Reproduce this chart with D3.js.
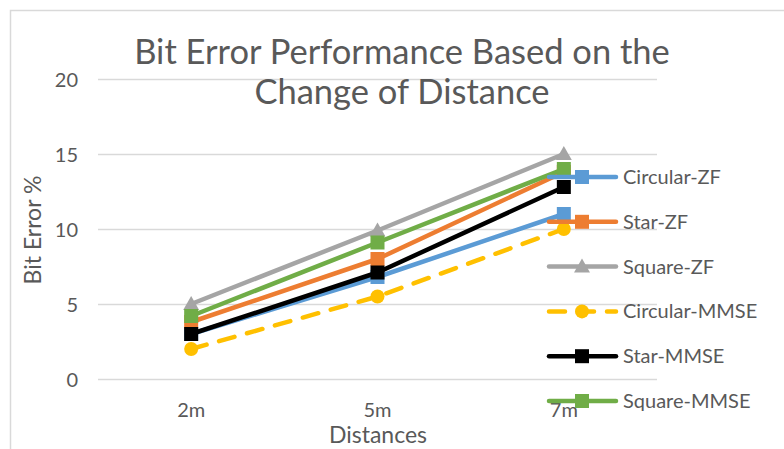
<!DOCTYPE html>
<html><head><meta charset="utf-8">
<script src="https://cdn.jsdelivr.net/npm/d3@7"></script>
<style>body{margin:0;background:#fff}svg{display:block}text{font-family:Lato,"Open Sans",sans-serif;fill:#595959}</style>
</head><body><svg id="c" width="784" height="449"></svg>
<script>
const categories = ["2m", "5m", "7m"];
const seriesNames = ["Circular-ZF", "Star-ZF", "Square-ZF", "Circular-MMSE", "Star-MMSE", "Square-MMSE"];
const circularZF = [3, 6.8, 11];
const starZF = [3.8, 8, 13.8];
const squareZF = [5, 9.9, 15];
const circularMMSE = [2, 5.5, 10];
const starMMSE = [3, 7.1, 12.8];
const squareMMSE = [4.2, 9.1, 14];
const yTicks = [0, 5, 10, 15, 20];
const colors = ["#5B9BD5", "#ED7D31", "#A5A5A5", "#FFC000", "#000000", "#70AD47"];
const markers = ["square", "square", "triangle", "circle", "square", "square"];
const dashed = [false, false, false, true, false, false];
const values = [circularZF, starZF, squareZF, circularMMSE, starMMSE, squareMMSE];

const svg = d3.select("#c");
svg.append("rect").attr("x",10.5).attr("y",10.5).attr("width",800).attr("height",500)
  .attr("fill","#fff").attr("stroke","#D9D9D9").attr("stroke-width",1.5);

const x = d3.scaleBand().domain(categories).range([98, 657]);
const y = d3.scaleLinear().domain([0, 20]).range([379, 79]);
const cx = d => x(d) + x.bandwidth()/2;

// gridlines
svg.append("g").selectAll("line").data(yTicks).join("line")
  .attr("x1", 98).attr("x2", 657).attr("y1", d => Math.round(y(d))+0.5).attr("y2", d => Math.round(y(d))+0.5)
  .attr("stroke", "#D9D9D9").attr("stroke-width", 1.3);

// y axis labels
const yAxis = d3.axisLeft(y).tickValues(yTicks).tickSize(0).tickPadding(0);
const gy = svg.append("g").attr("transform","translate(78,0)").call(yAxis);
gy.select(".domain").remove();
gy.selectAll("text").attr("font-size",20).attr("fill","#595959").attr("dy","0.35em").style("font-family","Lato");

// x axis labels
const xAxis = d3.axisBottom(x).tickSize(0).tickPadding(0);
const gx = svg.append("g").attr("transform","translate(0,403)").call(xAxis);
gx.select(".domain").remove();
gx.selectAll("text").attr("font-size",20).attr("fill","#595959").style("font-family","Lato");

// axis titles
svg.append("text").attr("x",378).attr("y",443).attr("text-anchor","middle").attr("font-size",23).text("Distances");
svg.append("text").attr("transform","translate(41,230) rotate(-90)").attr("text-anchor","middle").attr("font-size",23).text("Bit Error %");

// title
svg.append("text").attr("x",402).attr("y",64).attr("text-anchor","middle").attr("font-size",34.5).text("Bit Error Performance Based on the");
svg.append("text").attr("x",402).attr("y",104).attr("text-anchor","middle").attr("font-size",34.5).text("Change of Distance");

function drawMarker(g, type, color, px, py) {
  if (type === "square") {
    g.append("rect").attr("x", px-7).attr("y", py-7).attr("width",14).attr("height",14).attr("fill", color);
  } else if (type === "triangle") {
    g.append("path").attr("d", `M${px},${py-8}L${px+8},${py+6}L${px-8},${py+6}Z`).attr("fill", color);
  } else {
    g.append("circle").attr("cx", px).attr("cy", py).attr("r", 7).attr("fill", color);
  }
}

const line = d3.line().x((d,i) => cx(categories[i])).y(d => y(d));
values.forEach((vals, s) => {
  const g = svg.append("g");
  g.append("path").attr("d", line(vals)).attr("fill","none").attr("stroke", colors[s])
    .attr("stroke-width", 4.5).attr("stroke-linejoin","round").attr("stroke-linecap","round")
    .attr("stroke-dasharray", dashed[s] ? "16,13" : null);
  vals.forEach((v,i) => drawMarker(g, markers[s], colors[s], cx(categories[i]), y(v)));
});

// legend
const legY = d3.scalePoint().domain(seriesNames).range([177, 401]);
seriesNames.forEach((name, s) => {
  const g = svg.append("g");
  const ly = legY(name);
  g.append("line").attr("x1",549).attr("x2",616).attr("y1",ly).attr("y2",ly).attr("stroke",colors[s])
    .attr("stroke-width",4.5).attr("stroke-linecap","round").attr("stroke-dasharray", dashed[s] ? "16,13" : null);
  drawMarker(g, markers[s], colors[s], 582, ly);
  g.append("text").attr("x",623).attr("y",ly).attr("dy","0.35em").attr("font-size",20).text(name);
});
</script></body></html>
